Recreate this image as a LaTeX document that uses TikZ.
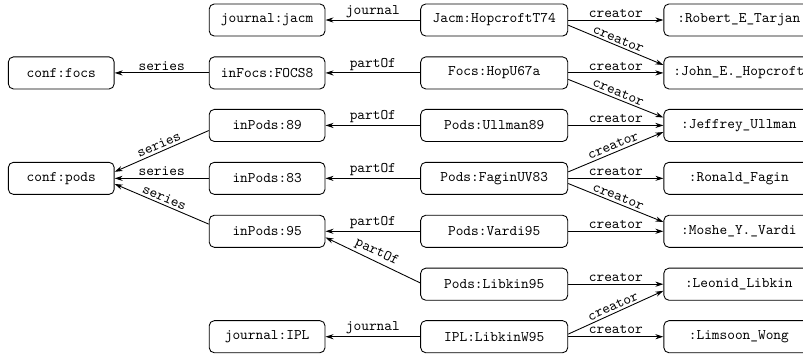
\documentclass[tikz,border=0pt]{standalone}
\usetikzlibrary{arrows.meta}

\begin{document}
\begin{tikzpicture}[every node/.style={font=\ttfamily},
  res/.style={draw, line width=0.6pt, rounded corners=3.5pt, minimum height=0.77cm, inner sep=2pt},
  conf/.style={res, minimum width=2.54cm},
  venue/.style={res, minimum width=2.78cm},
  paper/.style={res, minimum width=3.53cm},
  person/.style={res, minimum width=3.6cm, anchor=west},
  rel/.style={-{Stealth[length=5.5pt,width=3.5pt]}, line width=0.6pt},
  lbl/.style={above, sloped, inner sep=1.5pt}]

\useasboundingbox (0,0) rectangle (19.27,-8.59);

% Series
\node[conf] (confFocs) at (1.47,-1.75) {conf:focs};
\node[conf] (confPods) at (1.47,-4.28) {conf:pods};

% Venues
\node[venue] (jJacm) at (6.41,-0.48) {journal:jacm};
\node[venue] (inFocs8) at (6.41,-1.75) {inFocs:FOCS8};
\node[venue] (inPods89) at (6.41,-3.01) {inPods:89};
\node[venue] (inPods83) at (6.41,-4.28) {inPods:83};
\node[venue] (inPods95) at (6.41,-5.55) {inPods:95};
\node[venue] (jIPL) at (6.41,-8.08) {journal:IPL};

% Papers
\node[paper] (hopcroftT74) at (11.86,-0.48) {Jacm:HopcroftT74};
\node[paper] (hopU67a) at (11.86,-1.75) {Focs:HopU67a};
\node[paper] (ullman89) at (11.86,-3.01) {Pods:Ullman89};
\node[paper] (faginUV83) at (11.86,-4.28) {Pods:FaginUV83};
\node[paper] (vardi95) at (11.86,-5.55) {Pods:Vardi95};
\node[paper] (libkin95) at (11.86,-6.82) {Pods:Libkin95};
\node[paper] (libkinW95) at (11.86,-8.08) {IPL:LibkinW95};

% Authors
\node[person] (tarjan) at (15.92,-0.48) {:Robert\_E\_Tarjan};
\node[person] (hopcroft) at (15.92,-1.75) {:John\_E.\_Hopcroft};
\node[person] (ullman) at (15.92,-3.01) {:Jeffrey\_Ullman};
\node[person] (fagin) at (15.92,-4.28) {:Ronald\_Fagin};
\node[person] (vardi) at (15.92,-5.55) {:Moshe\_Y.\_Vardi};
\node[person] (libkin) at (15.92,-6.82) {:Leonid\_Libkin};
\node[person] (wong) at (15.92,-8.08) {:Limsoon\_Wong};

% series and partOf / journal
\draw[rel] (inFocs8) -- node[lbl] {series} (confFocs);
\draw[rel] (inPods89.185) -- node[lbl] {series} (confPods.7);
\draw[rel] (inPods83) -- node[lbl] {series} (confPods);
\draw[rel] (inPods95.173) -- node[lbl] {series} (confPods.-6);

\draw[rel] (hopcroftT74) -- node[lbl] {journal} (jJacm);
\draw[rel] (hopU67a) -- node[lbl] {partOf} (inFocs8);
\draw[rel] (ullman89) -- node[lbl] {partOf} (inPods89);
\draw[rel] (faginUV83) -- node[lbl] {partOf} (inPods83);
\draw[rel] (vardi95) -- node[lbl] {partOf} (inPods95);
\draw[rel] (libkin95.179) -- node[lbl] {partOf} (inPods95.-6);
\draw[rel] (libkinW95) -- node[lbl] {journal} (jIPL);

% creator
\draw[rel] (hopcroftT74) -- node[lbl] {creator} (tarjan);
\draw[rel] (hopcroftT74.-4) -- node[lbl] {creator} (hopcroft.174);
\draw[rel] (hopU67a) -- node[lbl] {creator} (hopcroft);
\draw[rel] (hopU67a.-5) -- node[lbl] {creator} (ullman.174);
\draw[rel] (ullman89) -- node[lbl] {creator} (ullman);
\draw[rel] (faginUV83.5) -- node[lbl] {creator} (ullman.185);
\draw[rel] (faginUV83) -- node[lbl] {creator} (fagin);
\draw[rel] (faginUV83.-4) -- node[lbl] {creator} (vardi.173);
\draw[rel] (vardi95) -- node[lbl] {creator} (vardi);
\draw[rel] (libkin95) -- node[lbl] {creator} (libkin);
\draw[rel] (libkinW95.2) -- node[lbl] {creator} (libkin.185);
\draw[rel] (libkinW95) -- node[lbl] {creator} (wong);

\end{tikzpicture}
\end{document}
